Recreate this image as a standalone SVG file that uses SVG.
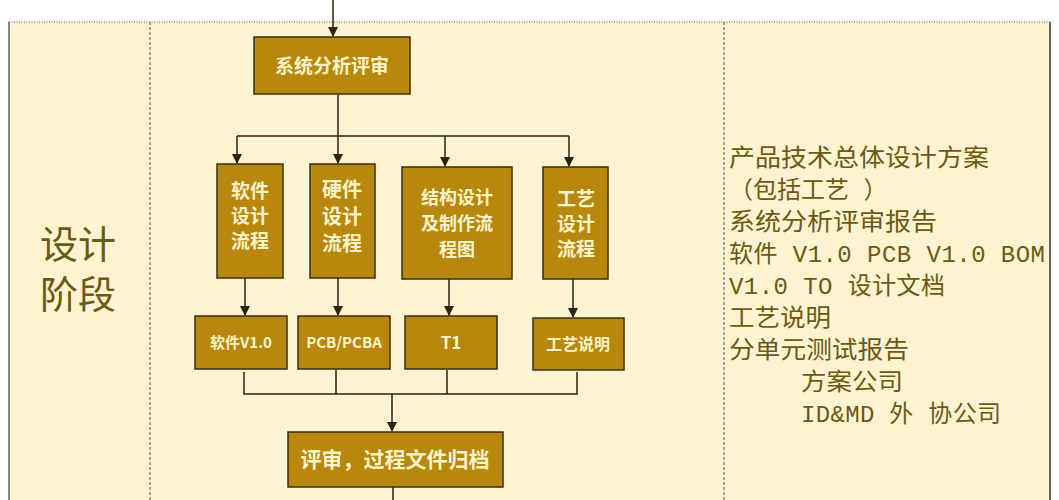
<svg xmlns="http://www.w3.org/2000/svg" width="1059" height="500" viewBox="0 0 1059 500">
<style>
.b{fill:#b8870d;stroke:#3a2e0c;stroke-width:1.5}
.t{fill:#fff3c8;font-family:"Noto Sans CJK SC",sans-serif;font-weight:bold;text-anchor:middle}
.c{stroke:#2a2410;stroke-width:1.5;fill:none}
.r{fill:#6b5a10;font-family:"Liberation Mono","Noto Sans CJK SC",monospace;font-size:24px}
</style>
<defs><marker id="a" markerWidth="10" markerHeight="10" refX="9" refY="5" orient="auto" markerUnits="userSpaceOnUse"><path d="M0,0 L10,5 L0,10 Z" fill="#2a2410"/></marker></defs>
<rect width="1059" height="500" fill="#fff"/>
<rect x="9" y="22" width="1041" height="478" fill="#fff3d2"/>
<line x1="9" y1="22" x2="1050" y2="22" stroke="#555" stroke-dasharray="1,1.5"/>
<line x1="9" y1="22" x2="9" y2="500" stroke="#333" stroke-width="1.2"/>
<line x1="1050" y1="22" x2="1050" y2="500" stroke="#333" stroke-width="1.5"/>
<line x1="150" y1="22" x2="150" y2="500" stroke="#555" stroke-dasharray="3,2"/>
<line x1="724" y1="22" x2="724" y2="500" stroke="#555" stroke-dasharray="3,2"/>
<g id="stage"><text x="78" y="258" font-family="Noto Sans CJK SC,sans-serif" font-size="38" fill="#6b5a10" text-anchor="middle">设计</text><text x="78" y="308" font-family="Noto Sans CJK SC,sans-serif" font-size="38" fill="#6b5a10" text-anchor="middle">阶段</text></g>
<g id="connectors">
<path class="c" d="M333,0 V36" marker-end="url(#a)"/>
<path class="c" d="M338,95 V136 M237,136 H569"/>
<path class="c" d="M237,136 V163" marker-end="url(#a)"/>
<path class="c" d="M338,136 V163" marker-end="url(#a)"/>
<path class="c" d="M445,136 V166" marker-end="url(#a)"/>
<path class="c" d="M569,136 V166" marker-end="url(#a)"/>
<path class="c" d="M245,278 V315" marker-end="url(#a)"/>
<path class="c" d="M338,278 V315" marker-end="url(#a)"/>
<path class="c" d="M449,279 V315" marker-end="url(#a)"/>
<path class="c" d="M573,279 V317" marker-end="url(#a)"/>
<path class="c" d="M244,372 V394 H577 V372 M336,370 V394 M447,370 V394"/>
<path class="c" d="M392,394 V431" marker-end="url(#a)"/>
<path class="c" d="M393,487 V500"/>
</g>
<g id="n1"><rect class="b" x="254" y="37" width="156" height="57"/><text class="t" x="332" y="73" font-size="19">系统分析评审</text></g>
<g id="n2"><rect class="b" x="217" y="164" width="66" height="114"/><text class="t" x="250" y="198" font-size="19">软件</text><text class="t" x="250" y="223" font-size="19">设计</text><text class="t" x="250" y="248" font-size="19">流程</text></g>
<g id="n3"><rect class="b" x="310" y="164" width="65" height="114"/><text class="t" x="342" y="197" font-size="20">硬件</text><text class="t" x="342" y="224" font-size="20">设计</text><text class="t" x="342" y="251" font-size="20">流程</text></g>
<g id="n4"><rect class="b" x="402" y="167" width="110" height="112"/><text class="t" x="457" y="204" font-size="18">结构设计</text><text class="t" x="457" y="230" font-size="18">及制作流</text><text class="t" x="457" y="256" font-size="18">程图</text></g>
<g id="n5"><rect class="b" x="543" y="167" width="65" height="112"/><text class="t" x="576" y="206" font-size="19">工艺</text><text class="t" x="576" y="231" font-size="19">设计</text><text class="t" x="576" y="256" font-size="19">流程</text></g>
<g id="n6"><rect class="b" x="195" y="316" width="92" height="53"/><text class="t" x="241" y="348" font-size="15">软件V1.0</text></g>
<g id="n7"><rect class="b" x="298" y="316" width="92" height="53"/><text class="t" x="344" y="348" font-size="15">PCB/PCBA</text></g>
<g id="n8"><rect class="b" x="405" y="316" width="92" height="53"/><text class="t" x="451" y="349" font-size="17">T1</text></g>
<g id="n9"><rect class="b" x="533" y="318" width="91" height="52"/><text class="t" x="578" y="350" font-size="16">工艺说明</text></g>
<g id="n10"><rect class="b" x="288" y="432" width="215" height="55"/><text class="t" x="395" y="467" font-size="21">评审，过程文件归档</text></g>
<g id="notes">
<text class="r" x="729" y="166" textLength="260" lengthAdjust="spacingAndGlyphs">产品技术总体设计方案</text>
<text class="r" x="729" y="198">（包括工艺 ）</text>
<text class="r" x="729" y="230" textLength="208" lengthAdjust="spacingAndGlyphs">系统分析评审报告</text>
<text class="r" x="729" y="262" textLength="316" lengthAdjust="spacing">软件 V1.0 PCB V1.0 BOM</text>
<text class="r" x="729" y="294" textLength="216" lengthAdjust="spacing">V1.0 TO 设计文档</text>
<text class="r" x="729" y="326" textLength="102" lengthAdjust="spacingAndGlyphs">工艺说明</text>
<text class="r" x="729" y="358" textLength="180" lengthAdjust="spacingAndGlyphs">分单元测试报告</text>
<text class="r" x="801" y="390" textLength="102" lengthAdjust="spacingAndGlyphs">方案公司</text>
<text class="r" x="801" y="422" textLength="200" lengthAdjust="spacing">ID&amp;MD 外 协公司</text>
</g>
</svg>
